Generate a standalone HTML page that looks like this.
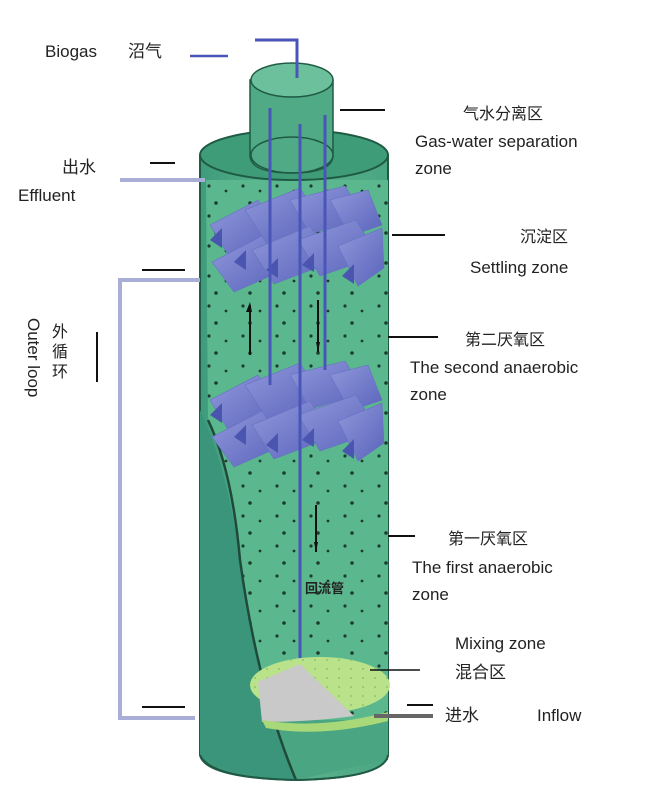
<!DOCTYPE html>
<html><head><meta charset="utf-8"><style>
html,body{margin:0;padding:0;background:#fff;}
svg{display:block}
text{font-family:"Liberation Sans","Noto Sans CJK SC",sans-serif;fill:#222;}
</style></head><body>
<svg width="659" height="800" viewBox="0 0 659 800" xmlns="http://www.w3.org/2000/svg">
<defs>
<pattern id="dots" width="34" height="30" patternUnits="userSpaceOnUse">
<circle cx="5" cy="6" r="1.6" fill="#1d3b30"/>
<circle cx="22" cy="11" r="1.4" fill="#1d3b30"/>
<circle cx="12" cy="23" r="1.8" fill="#1d3b30"/>
</pattern>
<pattern id="ldots" width="12" height="9" patternUnits="userSpaceOnUse">
<circle cx="3" cy="3" r="1" fill="#8fc46a"/>
</pattern>
<linearGradient id="body" x1="0" x2="1">
<stop offset="0" stop-color="#3f9c7c"/><stop offset="0.5" stop-color="#5bb38c"/><stop offset="1" stop-color="#4aa582"/>
</linearGradient>
<linearGradient id="baf" x1="0" x2="1" y1="0" y2="1">
<stop offset="0" stop-color="#9098da"/><stop offset="1" stop-color="#5a64bc"/>
</linearGradient>
<clipPath id="inside"><path d="M206,180 L388,180 L388,760 L296,780 Q258,690 240,560 Q232,470 208,420 Z"/></clipPath>
</defs>

<!-- main body -->
<path d="M200,155 L200,755 Q205,778 296,780 Q385,778 388,755 L388,155 Z" fill="url(#body)" stroke="#1f5a45" stroke-width="2"/>
<g clip-path="url(#inside)">
<rect x="200" y="180" width="190" height="600" fill="#5bb88e"/>
<rect x="200" y="180" width="190" height="560" fill="url(#dots)"/>
<rect x="200" y="720" width="190" height="60" fill="#4aa582"/>
</g>
<!-- cutaway outer wall -->
<path d="M200,410 Q228,470 240,560 Q258,690 296,780 Q215,776 200,755 Z" fill="#3a957a"/>
<path d="M208,420 Q232,470 240,560 Q258,690 296,780" fill="none" stroke="#1f4a3a" stroke-width="2.5"/>
<path d="M200,755 Q210,778 296,780 Q385,778 388,755" fill="none" stroke="#1f5a45" stroke-width="2"/>
<!-- top ellipse -->
<ellipse cx="294" cy="155" rx="94" ry="25" fill="#3f9c78" stroke="#1f5a45" stroke-width="2"/>
<!-- gas-water cylinder -->
<path d="M250,80 L250,155 Q250,173 292,173 Q333,173 333,155 L333,80 Z" fill="#4faa85" stroke="#1f5a45" stroke-width="1.5"/>
<ellipse cx="292" cy="155" rx="41" ry="18" fill="none" stroke="#1f5a45" stroke-width="1.5"/>
<ellipse cx="292" cy="80" rx="41" ry="17" fill="#6cc09c" stroke="#1f5a45" stroke-width="1.5"/>

<!-- baffles -->
<g id="bset">
<g fill="url(#baf)" stroke="#6670c0" stroke-width="0.6">
<polygon points="210,225 258,200 278,232 230,258"/>
<polygon points="245,210 300,188 322,222 267,244"/>
<polygon points="290,200 345,186 365,218 310,234"/>
<polygon points="330,200 368,190 382,225 350,236"/>
<polygon points="212,262 262,236 284,270 234,292"/>
<polygon points="252,250 310,226 332,262 274,284"/>
<polygon points="298,240 356,220 378,256 320,276"/>
<polygon points="338,246 382,228 384,268 358,286"/>
</g>
<g fill="#4a55b0">
<polygon points="210,240 222,228 222,248"/><polygon points="234,262 246,250 246,270"/><polygon points="266,270 278,258 278,278"/><polygon points="302,265 314,253 314,272"/><polygon points="342,276 354,264 354,284"/>
</g>
</g>
<use href="#bset" transform="translate(0,175)"/>

<!-- pipes -->
<line x1="270" y1="108" x2="270" y2="385" stroke="#4a55b8" stroke-width="3"/>
<line x1="300" y1="124" x2="300" y2="665" stroke="#4a55b8" stroke-width="3"/>
<line x1="325" y1="115" x2="325" y2="370" stroke="#4a55b8" stroke-width="3"/>
<polyline points="255,40 297,40 297,78" fill="none" stroke="#4a55b8" stroke-width="3"/>
<line x1="190" y1="56" x2="228" y2="56" stroke="#4a55b8" stroke-width="2.5"/>
<!-- internal arrows -->
<line x1="250" y1="305" x2="250" y2="355" stroke="#111" stroke-width="2"/><polygon points="246,312 250,302 252,312" fill="#111"/>
<line x1="318" y1="300" x2="318" y2="352" stroke="#111" stroke-width="2"/><polygon points="316,342 320,342 318,352" fill="#111"/>
<line x1="316" y1="505" x2="316" y2="552" stroke="#111" stroke-width="2"/><polygon points="314,542 318,542 316,552" fill="#111"/>

<!-- mixing zone -->
<ellipse cx="320" cy="685" rx="70" ry="28" fill="#b9e28a"/>
<ellipse cx="320" cy="685" rx="70" ry="28" fill="url(#ldots)"/>
<path d="M300,664 L258,682 L262,722 Q310,722 354,716 Z" fill="#c9c9c9"/>
<path d="M262,720 Q320,730 388,712 L388,721 Q320,738 266,728 Z" fill="#a8d878"/>

<!-- effluent pipe -->
<line x1="120" y1="180" x2="205" y2="180" stroke="#a9aed6" stroke-width="4"/>
<line x1="150" y1="163" x2="175" y2="163" stroke="#111" stroke-width="2"/>
<polyline points="200,280 120,280 120,718 195,718" fill="none" stroke="#a9aed6" stroke-width="4"/>
<line x1="142" y1="270" x2="185" y2="270" stroke="#111" stroke-width="2"/>
<line x1="142" y1="707" x2="185" y2="707" stroke="#111" stroke-width="2"/>
<line x1="97" y1="332" x2="97" y2="382" stroke="#111" stroke-width="2"/>
<line x1="374" y1="716" x2="433" y2="716" stroke="#666" stroke-width="4"/>
<line x1="407" y1="705" x2="433" y2="705" stroke="#111" stroke-width="2"/>

<g stroke="#111" stroke-width="2">
<line x1="340" y1="110" x2="385" y2="110"/>
<line x1="392" y1="235" x2="445" y2="235"/>
<line x1="388" y1="337" x2="438" y2="337"/>
<line x1="388" y1="536" x2="415" y2="536"/>
<line x1="370" y1="670" x2="420" y2="670" stroke-width="1.5"/>
</g>

<g font-size="17">
<text x="45" y="57">Biogas</text>
<text x="128" y="57">沼气</text>
<text x="62" y="173">出水</text>
<text x="18" y="201">Effluent</text>
<text x="463" y="119" font-size="16">气水分离区</text>
<text x="415" y="147">Gas-water separation</text>
<text x="415" y="174">zone</text>
<text x="520" y="242" font-size="16">沉淀区</text>
<text x="470" y="273">Settling zone</text>
<text x="465" y="345" font-size="16">第二厌氧区</text>
<text x="410" y="373">The second anaerobic</text>
<text x="410" y="400">zone</text>
<text x="448" y="544" font-size="16">第一厌氧区</text>
<text x="412" y="573">The first anaerobic</text>
<text x="412" y="600">zone</text>
<text x="455" y="649">Mixing zone</text>
<text x="455" y="678">混合区</text>
<text x="445" y="721">进水</text>
<text x="537" y="721">Inflow</text>
</g>
<text x="305" y="593" font-size="13" font-weight="bold">回流管</text>
<g transform="translate(28,318) rotate(90)">
<text x="0" y="0" font-size="17">Outer loop</text>
</g>
<text x="52" y="337" font-size="16">外</text>
<text x="52" y="357" font-size="16">循</text>
<text x="52" y="377" font-size="16">环</text>
</svg>
</body></html>
